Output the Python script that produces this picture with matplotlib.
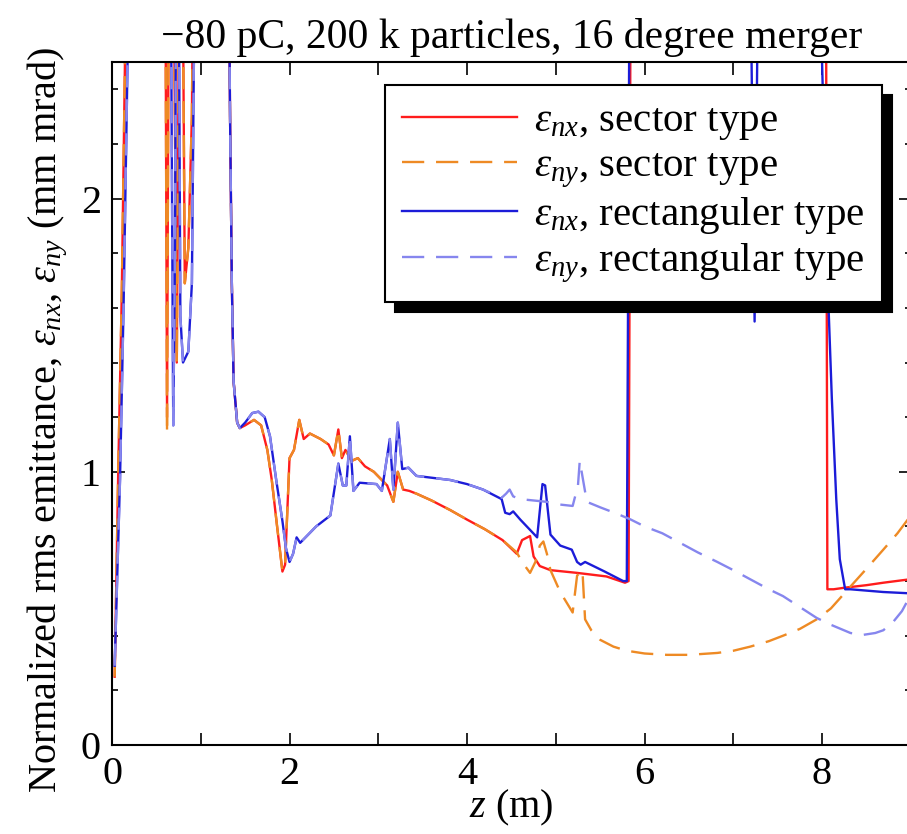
import numpy as np
import matplotlib
matplotlib.use("Agg")
import matplotlib.pyplot as plt
from matplotlib.ticker import MultipleLocator

# 字体：Times 风格
plt.rcParams["font.family"] = ["Liberation Serif", "DejaVu Serif"]
plt.rcParams["mathtext.fontset"] = "custom"
plt.rcParams["mathtext.rm"] = "Liberation Serif"
plt.rcParams["mathtext.it"] = "Liberation Serif:italic"
plt.rcParams["lines.scale_dashes"] = False

# ---- data (values > 2.5 are off the top of the axes) ----
sector_ny_z = [0.03, 0.07, 0.11, 0.15, 0.55, 0.60, 0.62, 0.64, 0.68, 0.73, 0.76, 0.79, 0.82, 0.86,
               0.90, 0.93, 1.30, 1.33, 1.35, 1.37, 1.41, 1.44, 1.50, 1.60, 1.68, 1.75, 1.80, 1.86,
               1.92, 1.95, 2.00, 2.05, 2.11, 2.16, 2.23, 2.35, 2.44, 2.50, 2.55, 2.59, 2.63, 2.70,
               2.77, 2.85, 2.95, 3.04, 3.10, 3.17, 3.22, 3.28, 3.35, 3.43, 3.60, 3.81, 4.00, 4.20,
               4.40, 4.56, 4.62, 4.71, 4.77, 4.82, 4.86, 4.90, 4.94, 5.05, 5.19, 5.24, 5.30, 5.33,
               5.40, 5.50, 5.65, 5.80, 6.00, 6.25, 6.50, 6.82, 7.00, 7.19, 7.40, 7.56, 7.75, 7.94,
               8.10, 8.32, 8.50, 8.69, 8.85, 9.00]
sector_ny_e = [0.25, 1.00, 1.65, 2.60, 3.50, 3.00, 1.14, 2.90, 3.50, 1.40, 3.00, 3.20, 1.69, 1.82,
               2.30, 3.50, 3.50, 2.30, 1.69, 1.33, 1.18, 1.16, 1.17, 1.19, 1.17, 1.08, 0.97, 0.80,
               0.635, 0.66, 1.05, 1.08, 1.19, 1.12, 1.14, 1.12, 1.10, 1.06, 1.155, 1.05, 1.08, 1.04,
               1.05, 1.02, 1.00, 0.97, 0.95, 0.89, 1.00, 0.935, 0.93, 0.92, 0.895, 0.86, 0.825, 0.79,
               0.75, 0.705, 0.67, 0.63, 0.67, 0.73, 0.745, 0.70, 0.64, 0.56, 0.485, 0.62, 0.64, 0.46,
               0.42, 0.385, 0.36, 0.345, 0.335, 0.33, 0.33, 0.337, 0.345, 0.36, 0.38, 0.40, 0.425, 0.46,
               0.50, 0.58, 0.645, 0.715, 0.775, 0.84]

sector_nx_z = [0.03, 0.07, 0.11, 0.15, 0.55, 0.60, 0.62, 0.64, 0.68, 0.73, 0.76, 0.79, 0.82, 0.86,
               0.90, 0.93, 1.30, 1.33, 1.35, 1.37, 1.41, 1.44, 1.50, 1.60, 1.68, 1.75, 1.80, 1.86,
               1.92, 1.95, 2.00, 2.05, 2.11, 2.16, 2.23, 2.35, 2.44, 2.50, 2.55, 2.59, 2.63, 2.70,
               2.77, 2.85, 2.95, 3.04, 3.10, 3.17, 3.22, 3.28, 3.35, 3.43, 3.60, 3.81, 4.00, 4.20,
               4.40, 4.56, 4.62, 4.71, 4.75, 4.82, 4.94, 5.24, 5.57, 5.78, 5.82, 5.85, 8.04, 8.06,
               8.13, 8.26, 8.50, 8.69, 9.00]
sector_nx_e = [0.25, 1.00, 1.65, 2.60, 3.50, 3.00, 1.20, 2.90, 3.50, 1.40, 3.00, 3.20, 1.69, 1.82,
               2.30, 3.50, 3.50, 2.30, 1.69, 1.33, 1.18, 1.16, 1.17, 1.19, 1.17, 1.08, 0.97, 0.80,
               0.635, 0.66, 1.05, 1.08, 1.19, 1.12, 1.14, 1.12, 1.10, 1.06, 1.155, 1.05, 1.08, 1.04,
               1.05, 1.02, 1.00, 0.97, 0.95, 0.89, 1.00, 0.935, 0.93, 0.92, 0.895, 0.86, 0.825, 0.79,
               0.75, 0.70, 0.75, 0.765, 0.69, 0.655, 0.64, 0.63, 0.617, 0.594, 0.60, 3.50, 3.50, 0.57,
               0.57, 0.576, 0.585, 0.594, 0.607]

rect_nx_z = [0.03, 0.09, 0.13, 0.18, 0.55, 0.58, 0.63, 0.66, 0.69, 0.71, 0.73, 0.75, 0.77, 0.80,
             0.83, 0.86, 0.90, 0.95, 1.30, 1.33, 1.35, 1.37, 1.41, 1.44, 1.50, 1.58, 1.65, 1.72,
             1.78, 1.85, 1.92, 1.96, 2.00, 2.04, 2.08, 2.12, 2.30, 2.46, 2.55, 2.60, 2.64, 2.68,
             2.72, 2.79, 2.98, 3.04, 3.13, 3.17, 3.22, 3.27, 3.34, 3.43, 3.81, 4.00, 4.18, 4.39,
             4.43, 4.48, 4.52, 4.60, 4.79, 4.85, 4.88, 4.94, 5.05, 5.18, 5.24, 5.28, 5.33, 5.55,
             5.76, 5.80, 5.84, 7.17, 7.24, 7.30, 7.99, 8.00, 8.07, 8.11, 8.16, 8.20, 8.26, 8.32,
             8.69, 9.00]
rect_nx_e = [0.29, 0.97, 1.60, 2.60, 3.50, 3.00, 3.50, 3.00, 1.17, 1.82, 3.50, 3.00, 1.57, 1.40,
             1.42, 1.44, 1.69, 3.50, 3.50, 2.30, 1.69, 1.33, 1.18, 1.16, 1.18, 1.215, 1.22, 1.20,
             1.13, 0.97, 0.82, 0.72, 0.67, 0.70, 0.76, 0.74, 0.80, 0.84, 1.03, 0.95, 0.95, 1.13,
             0.93, 0.96, 0.955, 0.93, 1.12, 0.935, 1.18, 1.01, 1.015, 0.985, 0.97, 0.955, 0.935, 0.90,
             0.85, 0.845, 0.855, 0.825, 0.76, 0.955, 0.95, 0.77, 0.73, 0.715, 0.67, 0.66, 0.67, 0.635,
             0.60, 0.60, 3.50, 3.50, 1.55, 3.50, 3.50, 2.50, 1.63, 1.27, 0.90, 0.68, 0.57, 0.57,
             0.56, 0.555]

rect_ny_z = [0.03, 0.09, 0.13, 0.18, 0.55, 0.58, 0.63, 0.66, 0.69, 0.71, 0.73, 0.75, 0.77, 0.80,
             0.83, 0.86, 0.90, 0.95, 1.30, 1.33, 1.35, 1.37, 1.41, 1.44, 1.50, 1.58, 1.65, 1.72,
             1.78, 1.85, 1.92, 1.96, 2.00, 2.04, 2.08, 2.12, 2.30, 2.46, 2.55, 2.60, 2.64, 2.68,
             2.72, 2.79, 2.98, 3.04, 3.13, 3.17, 3.22, 3.27, 3.34, 3.43, 3.81, 4.00, 4.18, 4.39,
             4.44, 4.48, 4.52, 4.60, 4.75, 4.90, 5.05, 5.19, 5.25, 5.27, 5.31, 5.35, 5.50, 5.70,
             5.84, 6.00, 6.20, 6.40, 6.60, 6.82, 7.00, 7.20, 7.40, 7.56, 7.75, 7.94, 8.10, 8.32,
             8.46, 8.60, 8.69, 8.80, 8.90, 9.00]
rect_ny_e = [0.29, 0.97, 1.60, 2.60, 3.50, 3.00, 3.50, 3.00, 1.17, 1.82, 3.50, 3.00, 1.57, 1.40,
             1.42, 1.44, 1.69, 3.50, 3.50, 2.30, 1.69, 1.33, 1.18, 1.16, 1.18, 1.215, 1.22, 1.20,
             1.13, 0.97, 0.82, 0.72, 0.67, 0.70, 0.76, 0.74, 0.80, 0.84, 1.03, 0.95, 0.95, 1.13,
             0.93, 0.96, 0.955, 0.93, 1.12, 0.935, 1.18, 1.01, 1.015, 0.985, 0.97, 0.955, 0.935, 0.905,
             0.92, 0.935, 0.91, 0.90, 0.895, 0.89, 0.88, 0.875, 0.95, 1.04, 0.965, 0.89, 0.87, 0.845,
             0.826, 0.80, 0.775, 0.74, 0.705, 0.67, 0.64, 0.605, 0.57, 0.545, 0.505, 0.465, 0.44, 0.41,
             0.403, 0.41, 0.42, 0.45, 0.49, 0.55]

series_labels = [r"$\varepsilon_{nx}$, sector type",
                 r"$\varepsilon_{ny}$, sector type",
                 r"$\varepsilon_{nx}$, rectanguler type",
                 r"$\varepsilon_{ny}$, rectangular type"]

x_ticks = [0, 1, 2, 3, 4, 5, 6, 7, 8, 9]
x_tick_labels = ["0", "", "2", "", "4", "", "6", "", "8", ""]
y_ticks = [0, 1, 2]
y_tick_labels = ["0", "1", "2"]

title_text = "\u221280 pC, 200 k particles, 16 degree merger"

# ---- plot ----
fig = plt.figure(figsize=(9.07, 8.34), dpi=100)
ax = fig.add_axes([0.1235, 0.1067, 0.8807, 0.819])

lw = 1.7
dash = (16, 8.5)
ax.plot(sector_nx_z, sector_nx_e, color="#ff1c1c", lw=lw, label=series_labels[0])
ax.plot(sector_ny_z, sector_ny_e, color="#ee8a24", lw=lw, dashes=dash, label=series_labels[1])
ax.plot(rect_nx_z, rect_nx_e, color="#1c1cd8", lw=lw, label=series_labels[2])
ax.plot(rect_ny_z, rect_ny_e, color="#8686ee", lw=lw, dashes=dash, label=series_labels[3])

ax.set_xlim(0, 9)
ax.set_ylim(0, 2.5)
ax.set_xticks(x_ticks)
ax.set_xticklabels(x_tick_labels)
ax.set_yticks(y_ticks)
ax.set_yticklabels(y_tick_labels)
ax.yaxis.set_minor_locator(MultipleLocator(0.2))

ax.tick_params(which="both", direction="in", top=True, right=True, width=1.2, labelsize=29)
ax.tick_params(which="major", length=9)
ax.tick_params(which="minor", length=4.5)
ax.tick_params(axis="x", pad=8)
ax.tick_params(axis="y", pad=8)
for sp in ax.spines.values():
    sp.set_linewidth(1.5)

ax.set_xlabel(r"$z$ (m)", fontsize=29, labelpad=-4)
ax.set_ylabel(r"Normalized rms emittance, $\varepsilon_{nx}$, $\varepsilon_{ny}$ (mm mrad)",
              fontsize=29, labelpad=8)
ax.yaxis.label.set_y(0.476)
ax.set_title(title_text, fontsize=30, pad=10)

leg = ax.legend(loc="upper right", bbox_to_anchor=(0.964, 0.966), borderaxespad=0,
                fontsize=29.5, handlelength=2.8, handletextpad=0.42, labelspacing=0.13,
                borderpad=0.42, fancybox=False, framealpha=1, edgecolor="black",
                shadow={"ox": 7, "oy": -7, "color": "black", "alpha": 1})
leg.get_frame().set_linewidth(1.5)

fig.savefig("out.png", dpi=100)
